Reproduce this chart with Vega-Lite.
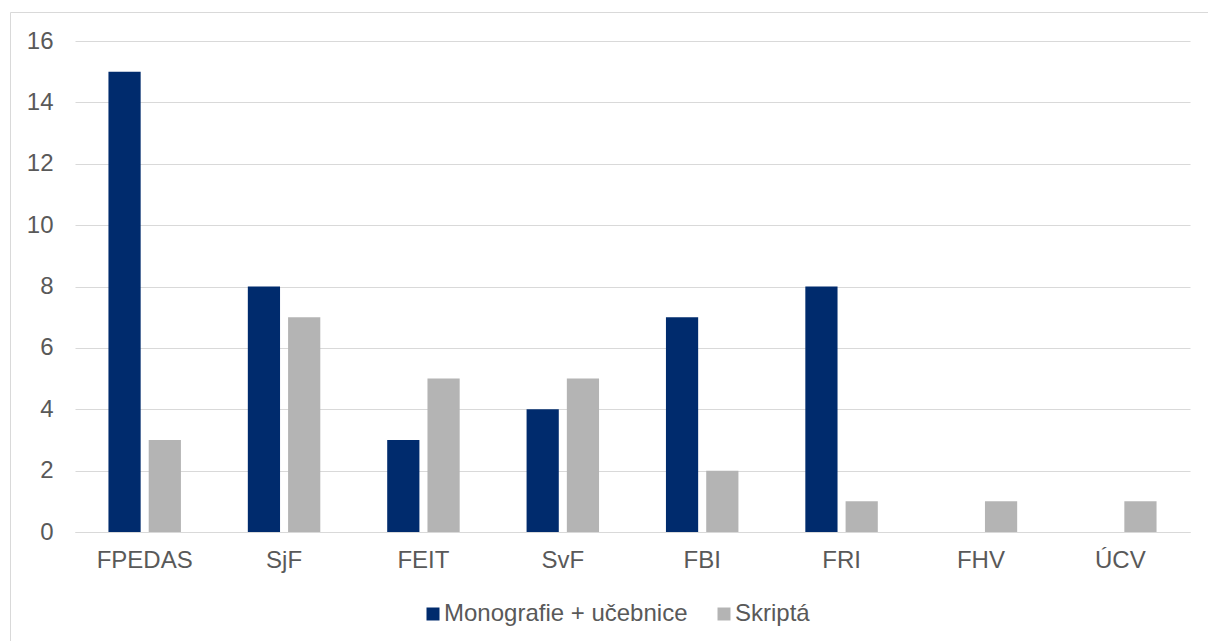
{
  "$schema": "https://vega.github.io/schema/vega-lite/v6.json",
  "autosize": {"type": "none"},
  "padding": {"left": 10, "top": 12, "right": 0, "bottom": 0},
  "width": 1198,
  "height": 640,
  "background": "white",
  "config": {
    "view": {"stroke": "#d9d9d9", "strokeWidth": 1},
    "font": "Liberation Sans"
  },
  "data": {
    "values": [
      {"fakulta": "FPEDAS", "typ": "Monografie + učebnice", "pocet": 15},
      {"fakulta": "FPEDAS", "typ": "Skriptá", "pocet": 3},
      {"fakulta": "SjF", "typ": "Monografie + učebnice", "pocet": 8},
      {"fakulta": "SjF", "typ": "Skriptá", "pocet": 7},
      {"fakulta": "FEIT", "typ": "Monografie + učebnice", "pocet": 3},
      {"fakulta": "FEIT", "typ": "Skriptá", "pocet": 5},
      {"fakulta": "SvF", "typ": "Monografie + učebnice", "pocet": 4},
      {"fakulta": "SvF", "typ": "Skriptá", "pocet": 5},
      {"fakulta": "FBI", "typ": "Monografie + učebnice", "pocet": 7},
      {"fakulta": "FBI", "typ": "Skriptá", "pocet": 2},
      {"fakulta": "FRI", "typ": "Monografie + učebnice", "pocet": 8},
      {"fakulta": "FRI", "typ": "Skriptá", "pocet": 1},
      {"fakulta": "FHV", "typ": "Monografie + učebnice", "pocet": 0},
      {"fakulta": "FHV", "typ": "Skriptá", "pocet": 1},
      {"fakulta": "ÚCV", "typ": "Monografie + učebnice", "pocet": 0},
      {"fakulta": "ÚCV", "typ": "Skriptá", "pocet": 1}
    ]
  },
  "mark": {"type": "bar", "clip": false},
  "encoding": {
    "x": {
      "field": "fakulta",
      "type": "nominal",
      "sort": null,
      "scale": {"range": [65, 1180], "paddingInner": 0.48, "paddingOuter": 0.24},
      "axis": {
        "title": null,
        "labelAngle": 0,
        "labelFontSize": 24,
        "labelColor": "#595959",
        "labelPadding": 16,
        "labelLimit": 0,
        "ticks": false,
        "tickSize": 0,
        "domain": true,
        "domainColor": "#d9d9d9",
        "domainWidth": 1,
        "offset": -120,
        "grid": false
      }
    },
    "xOffset": {
      "field": "typ",
      "type": "nominal",
      "sort": ["Monografie + učebnice", "Skriptá"],
      "scale": {"paddingInner": 0.2, "paddingOuter": 0}
    },
    "y": {
      "field": "pocet",
      "type": "quantitative",
      "scale": {"domain": [0, 16], "range": [520, 29], "nice": false},
      "axis": {
        "title": null,
        "values": [0, 2, 4, 6, 8, 10, 12, 14, 16],
        "labelFontSize": 24,
        "labelColor": "#595959",
        "labelPadding": 0,
        "ticks": false,
        "tickSize": 0,
        "domain": false,
        "grid": true,
        "gridColor": "#d9d9d9",
        "gridWidth": 1,
        "offset": -43
      }
    },
    "color": {
      "field": "typ",
      "type": "nominal",
      "scale": {"domain": ["Monografie + učebnice", "Skriptá"], "range": ["#002B6D", "#B4B4B4"]},
      "legend": {
        "title": null,
        "orient": "none",
        "direction": "horizontal",
        "legendX": 411,
        "legendY": 590,
        "symbolType": "square",
        "symbolSize": 169,
        "symbolStrokeWidth": 0,
        "labelFontSize": 24,
        "labelColor": "#595959",
        "labelOffset": -1,
        "labelLimit": 0,
        "columnPadding": 24
      }
    }
  }
}
